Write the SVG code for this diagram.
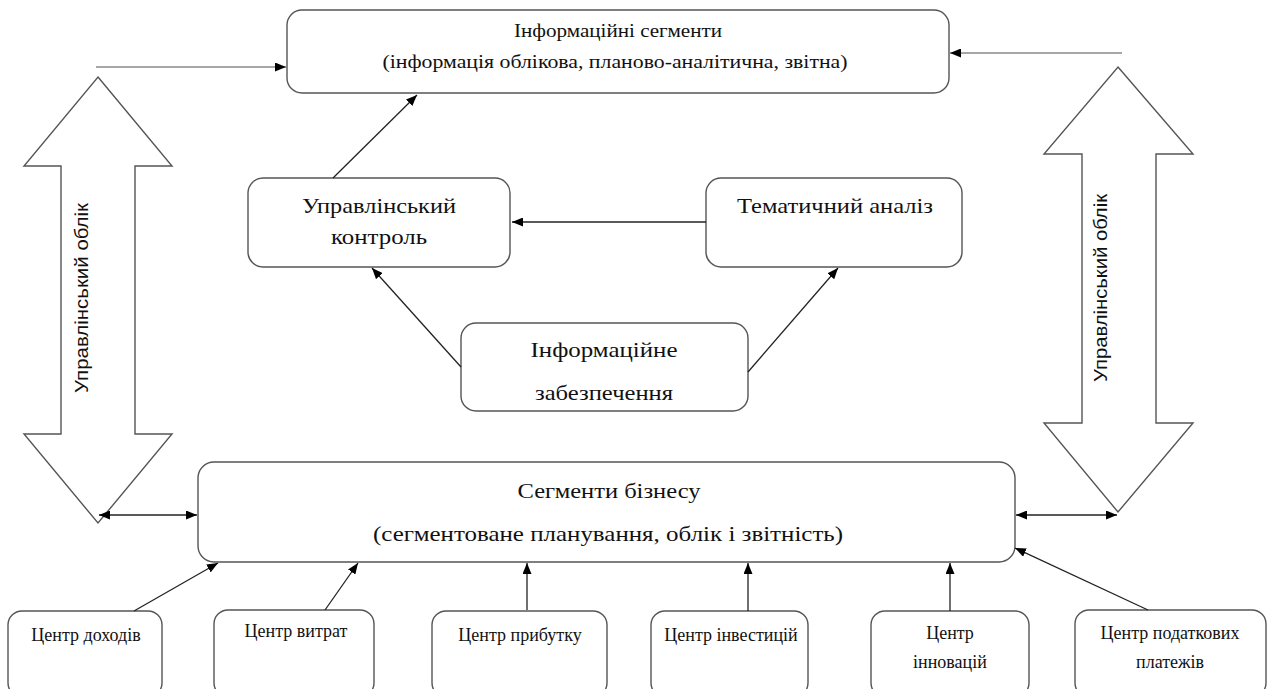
<svg xmlns="http://www.w3.org/2000/svg" width="1269" height="689" viewBox="0 0 1269 689">
<defs>
<marker id="ah" markerUnits="userSpaceOnUse" markerWidth="12" markerHeight="9" refX="11" refY="4.5" orient="auto-start-reverse">
<path d="M0,0 L11,4.5 L0,9 z" fill="#000"/>
</marker>
<style>
.box{fill:#fff;stroke:#555;stroke-width:1.4}
.blk{fill:#fff;stroke:#555;stroke-width:1.4}
.c{fill:none;stroke:#222;stroke-width:1.3}
.g{fill:none;stroke:#888;stroke-width:1.4}
.t{font-family:'Liberation Serif','DejaVu Serif',serif;fill:#111;text-anchor:middle}
.s{font-family:'Liberation Sans','DejaVu Sans',sans-serif;fill:#111;text-anchor:middle}
</style>
</defs>
<rect width="1269" height="689" fill="#fff"/>

<g id="left-block-arrow">
<polygon class="blk" points="98,77 172,166 135,166 135,434 172,434 98,523 24,434 61,434 61,166 24,166"/>
<text class="s" font-size="18" transform="translate(88,298) rotate(-90)" textLength="190" lengthAdjust="spacingAndGlyphs">Управлінський облік</text>
</g>
<g id="right-block-arrow">
<polygon class="blk" points="1118,67 1193,154 1156,154 1156,423 1193,423 1118,512 1044,423 1082,423 1082,154 1044,154"/>
<text class="s" font-size="18" transform="translate(1107,288) rotate(-90)" textLength="188" lengthAdjust="spacingAndGlyphs">Управлінський облік</text>
</g>

<g id="info-segments">
<rect class="box" x="287" y="10" width="662" height="83" rx="15"/>
<text class="t" font-size="19" x="618" y="37" textLength="208" lengthAdjust="spacingAndGlyphs">Інформаційні сегменти</text>
<text class="t" font-size="19" x="615" y="68" textLength="465" lengthAdjust="spacingAndGlyphs">(інформація облікова, планово-аналітична, звітна)</text>
</g>

<g id="mgmt-control">
<rect class="box" x="248" y="178" width="262" height="89" rx="15"/>
<text class="t" font-size="22" x="379" y="213" textLength="154" lengthAdjust="spacingAndGlyphs">Управлінський</text>
<text class="t" font-size="22" x="379" y="244" textLength="96" lengthAdjust="spacingAndGlyphs">контроль</text>
</g>

<g id="thematic-analysis">
<rect class="box" x="706" y="178" width="256" height="89" rx="15"/>
<text class="t" font-size="22" x="835" y="213" textLength="196" lengthAdjust="spacingAndGlyphs">Тематичний аналіз</text>
</g>

<g id="info-support">
<rect class="box" x="461" y="323" width="287" height="88" rx="15"/>
<text class="t" font-size="22" x="604" y="357" textLength="147" lengthAdjust="spacingAndGlyphs">Інформаційне</text>
<text class="t" font-size="22" x="604" y="400" textLength="138" lengthAdjust="spacingAndGlyphs">забезпечення</text>
</g>

<g id="business-segments">
<rect class="box" x="198" y="462" width="817" height="100" rx="16"/>
<text class="t" font-size="21" x="609" y="498" textLength="183" lengthAdjust="spacingAndGlyphs">Сегменти бізнесу</text>
<text class="t" font-size="21" x="608" y="541" textLength="470" lengthAdjust="spacingAndGlyphs">(сегментоване планування, облік і звітність)</text>
</g>

<g id="center-income">
<rect class="box" x="8" y="611" width="154" height="86" rx="14"/>
<text class="t" font-size="18" x="86" y="641">Центр доходів</text>
</g>
<g id="center-costs">
<rect class="box" x="214" y="610" width="160" height="87" rx="14"/>
<text class="t" font-size="18" x="296" y="637">Центр витрат</text>
</g>
<g id="center-profit">
<rect class="box" x="432" y="611" width="175" height="86" rx="14"/>
<text class="t" font-size="18" x="520" y="641">Центр прибутку</text>
</g>
<g id="center-investment">
<rect class="box" x="651" y="611" width="157" height="86" rx="14"/>
<text class="t" font-size="18" x="731" y="641">Центр інвестицій</text>
</g>
<g id="center-innovation">
<rect class="box" x="871" y="611" width="158" height="86" rx="14"/>
<text class="t" font-size="18" x="950" y="639">Центр</text>
<text class="t" font-size="18" x="950" y="668">інновацій</text>
</g>
<g id="center-tax">
<rect class="box" x="1075" y="610" width="191" height="87" rx="14"/>
<text class="t" font-size="18" x="1170" y="639">Центр податкових</text>
<text class="t" font-size="18" x="1170" y="668">платежів</text>
</g>

<g id="connectors">
<line class="g" x1="96" y1="67" x2="286" y2="67" marker-end="url(#ah)"/>
<line class="g" x1="1122" y1="53" x2="950" y2="53" marker-end="url(#ah)"/>
<line class="c" x1="333" y1="178" x2="417" y2="95" marker-end="url(#ah)"/>
<line class="c" x1="706" y1="222" x2="512" y2="222" marker-end="url(#ah)"/>
<line class="c" x1="461" y1="367" x2="372" y2="268" marker-end="url(#ah)"/>
<line class="c" x1="748" y1="372" x2="838" y2="268" marker-end="url(#ah)"/>
<line class="c" x1="99" y1="515" x2="197" y2="515" marker-start="url(#ah)" marker-end="url(#ah)"/>
<line class="c" x1="1016" y1="515" x2="1117" y2="515" marker-start="url(#ah)" marker-end="url(#ah)"/>
<line class="c" x1="134" y1="611" x2="218" y2="563" marker-end="url(#ah)"/>
<line class="c" x1="325" y1="610" x2="358" y2="563" marker-end="url(#ah)"/>
<line class="c" x1="527" y1="610" x2="527" y2="563" marker-end="url(#ah)"/>
<line class="c" x1="748" y1="611" x2="748" y2="563" marker-end="url(#ah)"/>
<line class="c" x1="950" y1="611" x2="950" y2="563" marker-end="url(#ah)"/>
<line class="c" x1="1148" y1="610" x2="1015" y2="548" marker-end="url(#ah)"/>
</g>
</svg>
